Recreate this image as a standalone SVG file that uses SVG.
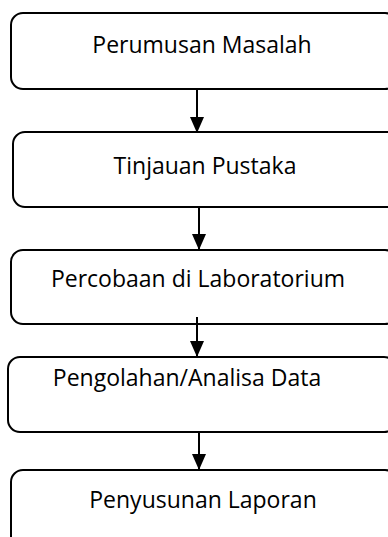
<svg xmlns="http://www.w3.org/2000/svg" width="388" height="537" viewBox="0 0 388 537">
<defs>
<marker id="ah" markerWidth="8" markerHeight="7" refX="8" refY="3.5" orient="auto" markerUnits="strokeWidth">
<path d="M0,0 L8,3.5 L0,7 Z" fill="#000"/>
</marker>
<style>
.box{fill:#fff;stroke:#000;stroke-width:2}
.lbl{font-family:"Open Sans","Noto Sans",sans-serif;font-size:23px;fill:#000;text-anchor:middle}
.con{stroke:#000;stroke-width:2;fill:none;marker-end:url(#ah)}
</style>
</defs>
<rect width="388" height="537" fill="#fff"/>
<g id="n1"><rect class="box" x="11" y="13" width="386" height="76" rx="12"/><text class="lbl" x="202" y="53">Perumusan Masalah</text></g>
<g id="n2"><rect class="box" x="13" y="132" width="386" height="75" rx="12"/><text class="lbl" x="205" y="174">Tinjauan Pustaka</text></g>
<g id="n3"><rect class="box" x="11" y="250" width="386" height="74" rx="12"/><text class="lbl" x="198" y="287">Percobaan di Laboratorium</text></g>
<g id="n4"><rect class="box" x="8" y="357" width="388" height="75" rx="12"/><text class="lbl" x="187" y="386">Pengolahan/Analisa Data</text></g>
<g id="n5"><rect class="box" x="11" y="470" width="386" height="90" rx="12"/><text class="lbl" x="203" y="508">Penyusunan Laporan</text></g>
<g id="connectors">
<line class="con" x1="197" y1="89" x2="197" y2="133"/>
<line class="con" x1="199" y1="207" x2="199" y2="250"/>
<line class="con" x1="197" y1="317" x2="197" y2="357"/>
<line class="con" x1="199" y1="432" x2="199" y2="470"/>
</g>
</svg>
